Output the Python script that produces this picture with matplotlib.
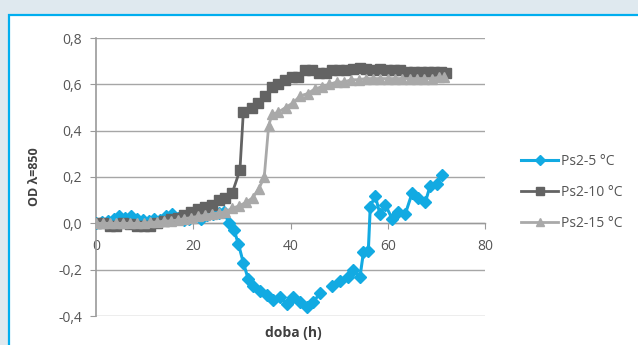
import matplotlib
matplotlib.use("Agg")
import matplotlib.pyplot as plt
from matplotlib.patches import Rectangle
from matplotlib.ticker import FuncFormatter
import numpy as np

# -----------------------------
# DATA
# -----------------------------
nan = np.nan

ps2_5_x = [0, 1.2, 2.4, 3.6, 4.8, 6.0, 7.2, 8.4, 9.6, 10.8, 12, 13.2, 14.4, 15.6, 16.8,
           18, 19.2, 20.4, 21.6, 22.8, 24, 25.2, 26.4, 27.3, 28.4, 29.3, 30.3, 31.3,
           32.3, 33.7, 35.2, 36.5, 37.9, 39.3, 40.6, 42, 43.4, 44.7, 46.1, 47.3,
           48.6, 50.2, 51.9, 52.9, 54.3, 55, 56, 56.4, 57.4, 58.4, 59.5, 60.9,
           62.1, 63.6, 65, 66.3, 67.7, 68.7, 70.1, 71.2]
ps2_5_y = [0, 0.005, 0.01, 0.02, 0.03, 0.025, 0.03, 0.02, 0.015, 0.01, 0.02, 0.015,
           0.03, 0.04, 0.025, 0.015, 0.02, 0.03, 0.02, 0.035, 0.04, 0.045, 0.05, 0.0,
           -0.03, -0.09, -0.17, -0.24, -0.27, -0.29, -0.31, -0.33, -0.32, -0.35,
           -0.32, -0.34, -0.36, -0.34, -0.30, nan,
           -0.27, -0.25, -0.23, -0.20, -0.23, -0.125, -0.12, 0.07, 0.12, 0.04,
           0.08, 0.02, 0.05, 0.04, 0.13, 0.11, 0.09, 0.16, 0.17, 0.21]

ps2_10_x = [0, 1.4, 2.8, 4.2, 5.6, 7, 8.4, 9.8, 11.2, 12.6, 14, 15.4, 16.8, 18.2,
            19.6, 21, 22.4, 23.8, 25.2, 26.6, 28, 29.6, 30.3, 32.1, 33.4, 34.8,
            36.2, 37.5, 38.9, 40.3, 41.6, 43, 44.4, 45.8, 47.2, 48.6, 50, 51.4,
            52.8, 54.2, 55.6, 57, 58.4, 59.8, 61.2, 62.6, 64, 65.4, 66.8, 68.2,
            69.6, 71, 72]
ps2_10_y = [0, 0, -0.01, -0.01, 0, -0.005, -0.01, -0.01, -0.01, 0.0, 0.01, 0.02,
            0.025, 0.035, 0.05, 0.06, 0.07, 0.08, 0.10, 0.11, 0.13, 0.23, 0.48,
            0.50, 0.52, 0.55, 0.59, 0.60, 0.62, 0.63, 0.63, 0.66, 0.66, 0.65, 0.65,
            0.66, 0.66, 0.66, 0.665, 0.67, 0.665, 0.66, 0.665, 0.66, 0.66, 0.66,
            0.655, 0.655, 0.655, 0.655, 0.655, 0.655, 0.65]

ps2_15_x = [0, 1.4, 2.8, 4.2, 5.6, 7, 8.4, 9.8, 11.2, 12.6, 14, 15.4, 16.8, 18.2,
            19.6, 21, 22.4, 23.8, 25.2, 26.6, 28, 29.4, 30.8, 32.2, 33.5, 34.6,
            35.5, 36.2, 37.5, 39, 40.5, 42, 43.5, 45, 46.5, 48, 49.5, 51, 52.5, 54,
            55.5, 57, 58.5, 60, 61.5, 63, 64.5, 66, 67.5, 69, 70.5, 71.5]
ps2_15_y = [0, 0, 0, 0, 0, 0, 0, 0, 0.005, 0.005, 0.01, 0.01, 0.015, 0.02, 0.025,
            0.03, 0.035, 0.04, 0.045, 0.05, 0.065, 0.075, 0.09, 0.11, 0.15, 0.20,
            0.42, 0.47, 0.48, 0.50, 0.52, 0.55, 0.56, 0.58, 0.59, 0.60, 0.61, 0.61,
            0.62, 0.62, 0.625, 0.625, 0.625, 0.625, 0.625, 0.625, 0.625, 0.625,
            0.625, 0.625, 0.63, 0.63]

labels = ["Ps2-5 °C", "Ps2-10 °C", "Ps2-15 °C"]
x_ticks = [0, 20, 40, 60, 80]
y_ticks = [-0.4, -0.2, 0.0, 0.2, 0.4, 0.6, 0.8]

# -----------------------------
# STYLE
# -----------------------------
plt.rcParams["font.family"] = ["Open Sans", "DejaVu Sans"]
BLUE = "#12aae2"
DARK = "#636363"
LIGHT = "#a9a9a9"
TEXT = "#555555"

fig = plt.figure(figsize=(6.38, 3.45), dpi=100, facecolor="#dfe9ef")

# white panel with cyan frame (behind everything)
panel = Rectangle((9 / 638, -0.1), 1.1, 1.1 - 15 / 345,
                  transform=fig.transFigure, facecolor="white",
                  edgecolor="#00aeef", linewidth=1.6, zorder=-10)
fig.add_artist(panel)

ax = fig.add_axes([96 / 638, 1 - 316 / 345, (485 - 96) / 638, (316 - 38) / 345])
ax.set_facecolor("none")

l1, = ax.plot(ps2_5_x, ps2_5_y, color=BLUE, marker="D", markersize=6.5,
              linewidth=2.2, zorder=3)
l2, = ax.plot(ps2_10_x, ps2_10_y, color=DARK, marker="s", markersize=7.5,
              linewidth=2.0, zorder=4)
l3, = ax.plot(ps2_15_x, ps2_15_y, color=LIGHT, marker="^", markersize=7.5,
              linewidth=2.0, zorder=5)

ax.set_xlim(0, 80)
ax.set_ylim(-0.4, 0.8)
ax.set_xticks(x_ticks)
ax.set_yticks(y_ticks)
ax.yaxis.set_major_formatter(FuncFormatter(lambda v, p: f"{v:.1f}".replace(".", ",").replace("-0,0", "0,0")))

ax.grid(axis="y", color="#a6a6a6", linewidth=1.0, zorder=1)
ax.set_axisbelow(True)

for s in ["top", "right"]:
    ax.spines[s].set_visible(False)
ax.spines["bottom"].set_position(("data", 0))
ax.spines["bottom"].set_color("#9a9a9a")
ax.spines["left"].set_color("#9a9a9a")
ax.spines["bottom"].set_linewidth(1.0)
ax.spines["left"].set_linewidth(1.2)

ax.tick_params(axis="x", length=4, color="#9a9a9a", pad=7, labelsize=10, labelcolor=TEXT)
ax.tick_params(axis="y", length=4, color="#9a9a9a", pad=6, labelsize=10, labelcolor=TEXT)

fig.text(293 / 638, 1 - 333 / 345, "doba (h)", ha="center", va="center",
         fontsize=10, fontweight="bold", color="#404040")
fig.text(35 / 638, 1 - 177 / 345, "OD λ=850", ha="center", va="center",
         rotation=90, fontsize=9, fontweight="bold", color="#404040")

fig.legend([l1, l2, l3], labels, loc="center left", bbox_to_anchor=(0.797, 0.443),
           frameon=False, fontsize=10, labelspacing=1.15, handlelength=2.7,
           handletextpad=0.15, markerscale=0.8, labelcolor=TEXT)

fig.savefig("out.png", dpi=100, facecolor=fig.get_facecolor())
